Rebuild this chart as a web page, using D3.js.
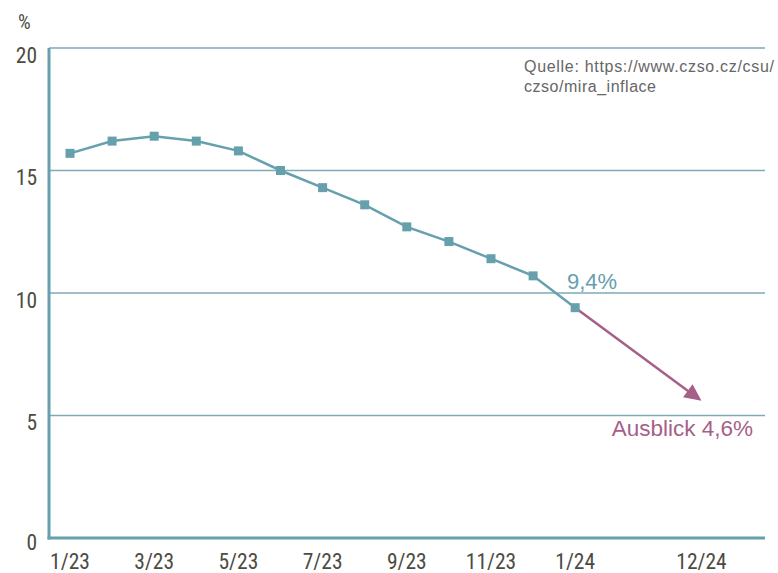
<!DOCTYPE html>
<html><head><meta charset="utf-8">
<script src="https://cdn.jsdelivr.net/npm/d3@7"></script>
<style>
html,body{margin:0;padding:0;background:#fff;}
svg{display:block;}
</style></head>
<body>
<script>
// ---- data ----
const months = ["1/23","2/23","3/23","4/23","5/23","6/23","7/23","8/23","9/23","10/23","11/23","12/23","1/24","gap1","gap2","12/24"];
const inflation = [15.7,16.2,16.4,16.2,15.8,15.0,14.3,13.6,12.7,12.1,11.4,10.7,9.4];
const outlookMonths = ["1/24","12/24"];
const outlookValues = [9.4,5.6];
const xTickLabels = ["1/23","3/23","5/23","7/23","9/23","11/23","1/24","12/24"];
const yTicks = [0,5,10,15,20];
const lastLabel = "9,4%";
const outlookLabel = "Ausblick 4,6%";
const sourceLines = ["Quelle: https://www.czso.cz/csu/","czso/mira_inflace"];

const W = 778, H = 573;
const teal = "#66a0ad", grid = "#7eaab5", mauve = "#a65f87", txt = "#4c4b42";
const svg = d3.select("body").append("svg").attr("width",W).attr("height",H);

const x = d3.scalePoint().domain(months).range([70,701.5]);
const y = d3.scaleLinear().domain([0,20]).range([538,48]);
const plotL = 49, plotR = 765;

// gridlines
svg.append("g").selectAll("line").data(yTicks.filter(d=>d>0)).join("line")
  .attr("x1",plotL).attr("x2",plotR).attr("y1",d=>y(d)).attr("y2",d=>y(d))
  .attr("stroke",grid).attr("stroke-width",1.5);
// axes lines
svg.append("line").attr("x1",plotL).attr("x2",plotL).attr("y1",y(20)).attr("y2",y(0)+1.5)
  .attr("stroke",teal).attr("stroke-width",3);
svg.append("line").attr("x1",plotL-1.5).attr("x2",plotR).attr("y1",y(0)).attr("y2",y(0))
  .attr("stroke",teal).attr("stroke-width",3);

// y labels
const narrow = "'Liberation Sans Narrow','Roboto Condensed','Arial Narrow',sans-serif";
svg.append("g").selectAll("text").data(yTicks).join("text")
  .attr("x",37).attr("y",d=>y(d)+(d===0?12:14.5))
  .attr("text-anchor","end").attr("font-family",narrow).attr("font-size",21.5).attr("fill",txt)
  .text(d=>d);
svg.append("text").attr("x",18).attr("y",29).attr("font-family",narrow).attr("font-size",20).attr("fill",txt).text("%");

// x labels
svg.append("g").selectAll("text").data(xTickLabels).join("text")
  .attr("x",d=>x(d)).attr("y",569).attr("text-anchor","middle")
  .attr("font-family",narrow).attr("font-size",21.5).attr("fill",txt).text(d=>d);

// outlook arrow
const x0 = x(outlookMonths[0]), y0 = y(outlookValues[0]);
const x1 = x(outlookMonths[1]), y1 = y(outlookValues[1]);
const ang = Math.atan2(y1-y0,x1-x0), hl = 17, hw = 8;
const bx = x1 - hl*Math.cos(ang), by = y1 - hl*Math.sin(ang);
svg.append("line").attr("x1",x0).attr("y1",y0).attr("x2",bx+2*Math.cos(ang)).attr("y2",by+2*Math.sin(ang))
  .attr("stroke",mauve).attr("stroke-width",2.5);
svg.append("path").attr("fill",mauve)
  .attr("d",`M${x1},${y1}L${bx - hw*Math.sin(ang)},${by + hw*Math.cos(ang)}L${bx + hw*Math.sin(ang)},${by - hw*Math.cos(ang)}Z`);

// series line
const line = d3.line().x((d,i)=>x(months[i])).y(d=>y(d));
svg.append("path").datum(inflation).attr("d",line).attr("fill","none")
  .attr("stroke",teal).attr("stroke-width",2.5);
svg.append("g").selectAll("rect").data(inflation).join("rect")
  .attr("x",(d,i)=>x(months[i])-4.5).attr("y",d=>y(d)-4.5).attr("width",9).attr("height",9)
  .attr("fill",teal);

// labels
const reg = "'Liberation Sans',Arial,Helvetica,sans-serif";
svg.append("text").attr("x",567).attr("y",289).attr("font-family",reg).attr("font-size",22)
  .attr("fill",teal).text(lastLabel);
svg.append("text").attr("x",753).attr("y",436).attr("text-anchor","end").attr("font-family",reg).attr("font-size",22.5)
  .attr("fill",mauve).text(outlookLabel);
const srcLens = [250,132];
svg.append("g").selectAll("text").data(sourceLines).join("text")
  .attr("x",524).attr("y",(d,i)=>72+i*20).attr("font-family",reg).attr("font-size",16)
  .attr("textLength",(d,i)=>srcLens[i]).attr("lengthAdjust","spacing")
  .attr("fill","#666").text(d=>d);
</script>
</body></html>
